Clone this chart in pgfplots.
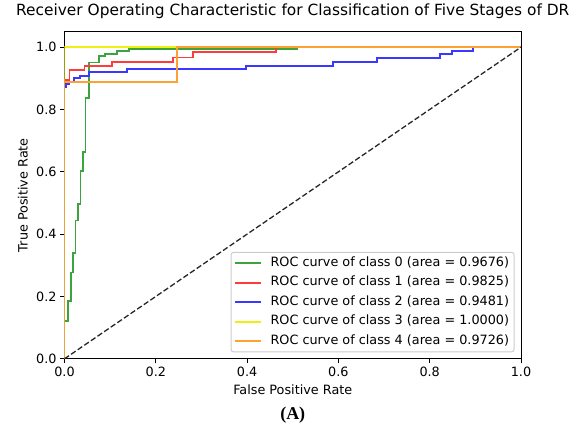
\documentclass[border=0pt]{standalone}
\usepackage{fontspec}
\setmainfont{DejaVu Sans}
\newfontfamily\capfont{Liberation Serif}
\usepackage{pgfplots}
\pgfplotsset{compat=1.18}
\definecolor{cls0}{HTML}{3DA33D}
\definecolor{cls1}{HTML}{FF3B3B}
\definecolor{cls2}{HTML}{3838FF}
\definecolor{cls3}{HTML}{F0F010}
\definecolor{cls4}{HTML}{FFA033}
\begin{document}
\begin{tikzpicture}
\pgfplotsset{every axis/.append style={
  font=\fontsize{12.8}{15}\selectfont,
  tick label style={font=\fontsize{12.8}{15}\selectfont},
  /pgf/number format/assume math mode=true}}
\begin{axis}[width=456.5pt,height=327.2pt,scale only axis,
  xmin=0,xmax=1,ymin=0,ymax=1.05,
  xtick={0,0.2,0.4,0.6,0.8,1},ytick={0,0.2,0.4,0.6,0.8,1},
  /pgf/number format/.cd,fixed,fixed zerofill,precision=1,/pgfplots/.cd,
  tick align=outside,tick pos=left,major tick length=4.5pt,
  axis line style={line width=1pt},tick style={line width=1pt,black},
  title={Receiver Operating Characteristic for Classification of Five Stages of DR},
  title style={font=\fontsize{15.4}{18}\selectfont,at={(axis description cs:0.5,1)},anchor=center,yshift=14.8pt},
  xlabel={False Positive Rate},ylabel={True Positive Rate},
  xlabel style={at={(axis description cs:0.5,-0.0954)},anchor=center},
  ylabel style={at={(axis description cs:-0.0913,0.5)},anchor=center},
  legend cell align=left,
  legend style={at={(axis description cs:1,0)},anchor=south east,xshift=-6.4pt,yshift=6.4pt,
    draw=black!20,line width=1pt,rounded corners=2.5pt,fill=white,
    inner xsep=3pt,inner ysep=1pt,row sep=0pt,
    /tikz/every odd column/.append style={column sep=7pt},
    nodes={text height=9.5pt,text depth=3pt,inner ysep=3.5pt,inner xsep=2pt},
    font=\fontsize{12.8}{15}\selectfont},
  legend image code/.code={\draw[#1] (0pt,0pt) -- (25.7pt,0pt);},
  every axis plot/.append style={line width=1.8pt}]
\addplot[cls0] coordinates {(0,0) (0,0.122) (0.007,0.122) (0.007,0.186) (0.014,0.186) (0.014,0.277) (0.019,0.277) (0.019,0.339) (0.024,0.339) (0.024,0.444) (0.030,0.444) (0.030,0.497) (0.035,0.497) (0.035,0.602) (0.040,0.602) (0.040,0.664) (0.046,0.664) (0.046,0.836) (0.053,0.836) (0.053,0.951) (0.075,0.951) (0.075,0.971) (0.089,0.971) (0.089,0.979) (0.115,0.979) (0.115,0.987) (0.141,0.987) (0.141,0.995) (0.510,0.995) (0.510,1) (1,1)};
\addlegendentry{ROC curve of class 0 (area = 0.9676)}
\addplot[cls1] coordinates {(0,0) (0,0.894) (0.011,0.894) (0.011,0.926) (0.044,0.926) (0.044,0.939) (0.104,0.939) (0.104,0.953) (0.238,0.953) (0.238,0.967) (0.282,0.967) (0.282,0.985) (0.463,0.985) (0.463,1) (1,1)};
\addlegendentry{ROC curve of class 1 (area = 0.9825)}
\addplot[cls2] coordinates {(0,0) (0,0.873) (0.004,0.873) (0.004,0.881) (0.010,0.881) (0.010,0.889) (0.020,0.889) (0.020,0.900) (0.034,0.900) (0.034,0.907) (0.053,0.907) (0.053,0.919) (0.137,0.919) (0.137,0.929) (0.397,0.929) (0.397,0.939) (0.588,0.939) (0.588,0.952) (0.684,0.952) (0.684,0.966) (0.823,0.966) (0.823,0.977) (0.848,0.977) (0.848,0.988) (0.894,0.988) (0.894,1) (1,1)};
\addlegendentry{ROC curve of class 2 (area = 0.9481)}
\addplot[cls3] coordinates {(0,0) (0,1) (1,1)};
\addlegendentry{ROC curve of class 3 (area = 1.0000)}
\addplot[cls4] coordinates {(0,0) (0,0.889) (0.247,0.889) (0.247,1) (1,1)};
\addlegendentry{ROC curve of class 4 (area = 0.9726)}
\addplot[black!85,line width=1.3pt,dash pattern=on 5.5pt off 2.5pt,forget plot] coordinates {(0,0) (1,1)};
\end{axis}
\node[font=\capfont\bfseries\fontsize{18}{20}\selectfont,anchor=center] at (228.25pt,-56pt) {(A)};
\path (-64.5pt,-67.5pt) rectangle (517.5pt,355.5pt);
\end{tikzpicture}
\end{document}
